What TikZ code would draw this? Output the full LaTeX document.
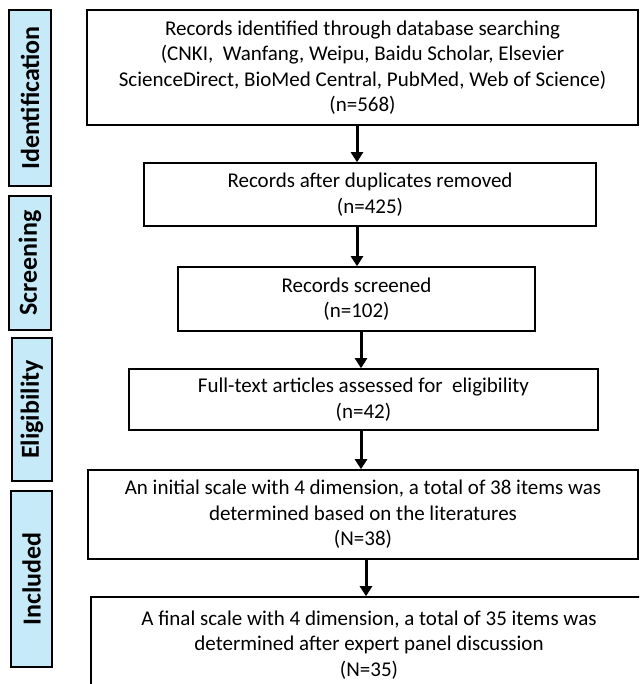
\documentclass[tikz,border=0pt]{standalone}
\usepackage{fontspec}
\setmainfont{Carlito}
\usetikzlibrary{arrows.meta}
\definecolor{stageblue}{RGB}{198,234,248}
\tikzset{
  box/.style={draw=black, line width=1.6pt, fill=white, align=center, inner sep=0pt,
    font=\fontsize{21}{25.5}\selectfont},
  stage/.style={draw=black, line width=1.8pt, fill=stageblue, rotate=90, inner sep=0pt,
    font=\fontsize{26}{28}\selectfont\bfseries},
  arr/.style={line width=3pt, -{Triangle[width=12pt,length=10pt]}}
}
\begin{document}
\begin{tikzpicture}[x=1pt,y=-1pt]
\clip (0,0) rectangle (639,684);
\fill[white] (0,0) rectangle (639,684);
% stage labels
\node[stage, minimum width=176pt, minimum height=42pt] (s1) at (30,98) {Identification};
\node[stage, minimum width=134pt, minimum height=42pt] (s2) at (30,263) {Screening};
\node[stage, minimum width=143pt, minimum height=40pt] (s3) at (32,409.5) {Eligibility};
\node[stage, minimum width=176pt, minimum height=41pt] (s4) at (31.5,579) {Included};
% boxes
\node[box, minimum width=551pt, minimum height=115pt] (b1) at (362.5,67.5)
  {Records identified through database searching\\(CNKI,\ \ Wanfang, Weipu, Baidu Scholar, Elsevier\\ScienceDirect, BioMed Central, PubMed, Web of Science)\\(n=568)};
\node[box, minimum width=452pt, minimum height=63pt] (b2) at (370,194.5)
  {Records after duplicates removed\\(n=425)};
\node[box, minimum width=357pt, minimum height=64pt] (b3) at (356.5,299)
  {Records screened\\(n=102)};
\node[box, minimum width=469pt, minimum height=61pt] (b4) at (363.5,399.5)
  {Full-text articles assessed for\ \ eligibility\\(n=42)};
\node[box, minimum width=550pt, minimum height=89pt] (b5) at (363,514.5)
  {An initial scale with 4 dimension, a total of 38 items was\\determined based on the literatures\\(N=38)};
\node[box, minimum width=556pt, minimum height=96pt] (b6) at (369,645)
  {A final scale with 4 dimension, a total of 35 items was\\determined after expert panel discussion\\(N=35)};
% arrow columns
\coordinate (c1) at (357,0);
\coordinate (c2) at (357,0);
\coordinate (c3) at (361,0);
\coordinate (c4) at (361,0);
\coordinate (c5) at (366,0);
\draw[arr] (b1.south -| c1) -- (b2.north -| c1);
\draw[arr] (b2.south -| c2) -- (b3.north -| c2);
\draw[arr] (b3.south -| c3) -- (b4.north -| c3);
\draw[arr] (b4.south -| c4) -- (b5.north -| c4);
\draw[arr] (b5.south -| c5) -- (b6.north -| c5);
\end{tikzpicture}
\end{document}
